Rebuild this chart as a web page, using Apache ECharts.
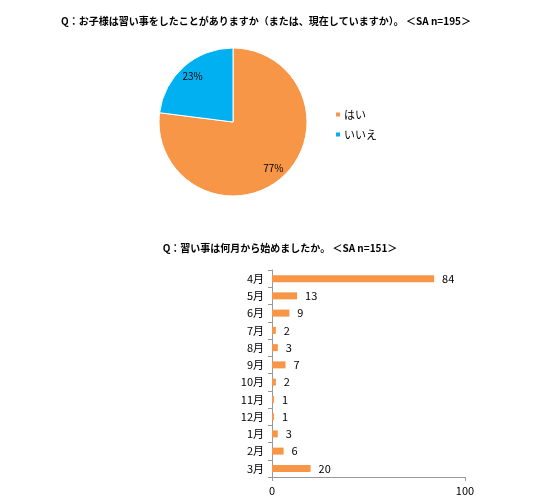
<!DOCTYPE html>
<html><head><meta charset="utf-8">
<script src="https://cdn.jsdelivr.net/npm/echarts@6/dist/echarts.min.js"></script>
<style>html,body{margin:0;padding:0;background:#fff}#c{width:550px;height:502px}</style>
</head><body><div id="c"></div>
<script>
const pieTitle = 'Q：お子様は習い事をしたことがありますか（または、現在していますか）。 ＜SA n=195＞';
const pieNames = ['はい', 'いいえ'];
const pieValues = [77, 23];
const barTitle = 'Q：習い事は何月から始めましたか。 ＜SA n=151＞';
const months = ['4月','5月','6月','7月','8月','9月','10月','11月','12月','1月','2月','3月'];
const monthCounts = [84, 13, 9, 2, 3, 7, 2, 1, 1, 3, 6, 20];
const xTicks = [0, 100];

const font = '"Noto Sans CJK JP", "Noto Sans", sans-serif';
const orange = '#F79646', blue = '#00B0F0';
const pieData = pieNames.map((n, i) => ({name: n, value: pieValues[i], itemStyle: {color: i === 0 ? orange : blue}}));

const chart = echarts.init(document.getElementById('c'));
chart.setOption({
  animation: false,
  textStyle: {fontFamily: font},
  title: [
    {text: pieTitle, left: 261, top: 11, textAlign: 'center',
     textStyle: {fontSize: 10, fontWeight: 'bold', color: '#000', fontFamily: font}},
    {text: barTitle, left: 275, top: 238, textAlign: 'center',
     textStyle: {fontSize: 10, fontWeight: 'bold', color: '#000', fontFamily: font}}
  ],
  legend: {
    orient: 'vertical', left: 329, top: 104, itemWidth: 6, itemHeight: 6, itemGap: 9,
    icon: 'rect', data: pieNames,
    textStyle: {fontSize: 11, color: '#000', fontFamily: font, padding: [0,0,0,-2]}
  },
  grid: {left: 272, right: 85, top: 270, bottom: 25},
  xAxis: {
    type: 'value', min: xTicks[0], max: xTicks[1], interval: 100,
    axisLine: {show: true, lineStyle: {color: '#999'}},
    axisTick: {show: true, length: 4, lineStyle: {color: '#999'}},
    splitLine: {show: false},
    axisLabel: {fontSize: 11, color: '#000', margin: 8}
  },
  yAxis: {
    type: 'category', data: months, inverse: true,
    axisLine: {show: true, lineStyle: {color: '#999'}},
    axisTick: {show: true, length: 4, lineStyle: {color: '#999'}},
    axisLabel: {fontSize: 11, color: '#000', margin: 8}
  },
  series: [
    {type: 'pie', center: [233, 122], radius: [0, 74], startAngle: 90, clockwise: true,
     data: pieData, label: {show: false}, labelLine: {show: false},
     itemStyle: {borderColor: '#fff', borderWidth: 1}, emphasis: {disabled: true}},
    {type: 'pie', center: [233, 122], radius: [42, 74], startAngle: 90, clockwise: true,
     data: pieData.map(d => ({name: d.name, value: d.value})), silent: true,
     itemStyle: {color: 'rgba(0,0,0,0)'}, legendHoverLink: false,
     label: {show: true, position: 'inside', formatter: '{c}%', fontSize: 10, color: '#000', fontFamily: font},
     labelLine: {show: false}},
    {type: 'bar', data: monthCounts, barWidth: 7,
     itemStyle: {color: orange},
     label: {show: true, position: 'right', distance: 8, fontSize: 11, color: '#000', fontFamily: font}}
  ]
});
</script></body></html>
